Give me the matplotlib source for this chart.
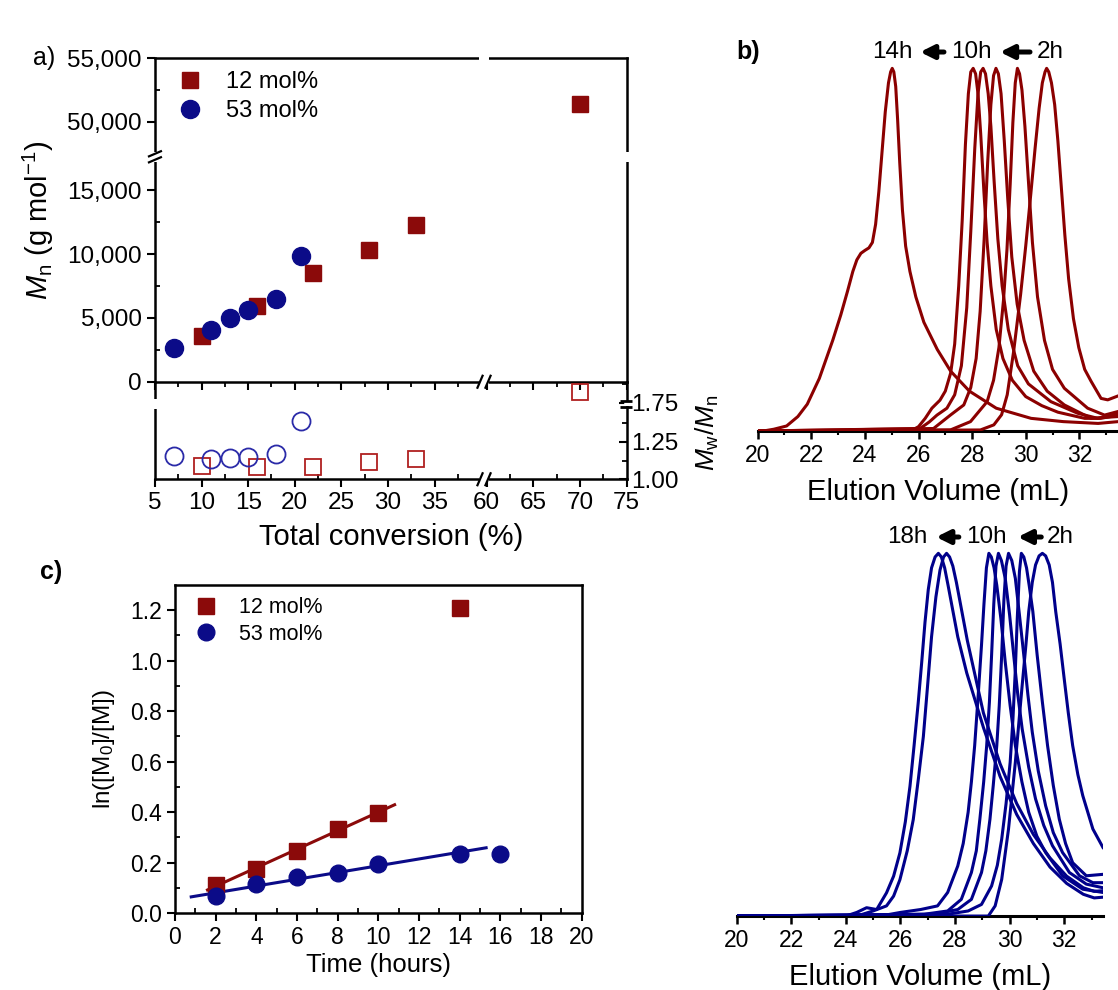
import numpy as np
import matplotlib
matplotlib.use("Agg")
import matplotlib.pyplot as plt
from matplotlib.lines import Line2D
from matplotlib.ticker import FixedLocator, FuncFormatter

plt.rcParams["font.family"] = ["Liberation Sans", "DejaVu Sans"]
plt.rcParams["mathtext.fontset"] = "custom"
plt.rcParams["mathtext.rm"] = "Liberation Sans"
plt.rcParams["mathtext.it"] = "Liberation Sans:italic"

RED = "#8b0a0a"
BLUE = "#0b0b88"

# ---- panel a: Mn and dispersity vs total conversion
conv_12 = [10, 16, 22, 28, 33, 70]
mn_12 = [3570, 5950, 8520, 10370, 12280, 51430]
pdi_12 = [1.088, 1.081, 1.081, 1.116, 1.133, 1.82]
conv_53 = [7, 11, 13, 15, 18, 20.7]
mn_53 = [2650, 4020, 5030, 5610, 6480, 9870]
pdi_53 = [1.156, 1.133, 1.143, 1.149, 1.172, 1.387]

# ---- panel c: first order kinetics
time_12 = [2, 4, 6, 8, 10, 14]
ln_12 = [0.11, 0.176, 0.246, 0.334, 0.398, 1.207]
time_53 = [2, 4, 6, 8, 10, 14, 16]
ln_53 = [0.066, 0.114, 0.143, 0.16, 0.193, 0.233, 0.233]
fit_12_range = [1.6, 10.8]
fit_53_range = [0.8, 15.3]

# ---- panel b: SEC traces, 12 mol% (red)
red_traces = [
    ([20.0, 20.2, 20.6, 21.08, 21.5, 21.85, 22.3, 22.8, 23.1, 23.35, 23.55, 23.7, 23.85,
      24.0, 24.15, 24.28, 24.4, 24.52, 24.64, 24.76, 24.88, 24.96, 25.02, 25.08, 25.15,
      25.22, 25.3, 25.4, 25.52, 25.68, 25.9, 26.2, 26.7, 27.2, 27.9, 28.9, 30.2, 31.4,
      32.7, 33.45],
     [0.0, 0.0, 0.005, 0.014, 0.04, 0.074, 0.145, 0.25, 0.32, 0.385, 0.44, 0.472, 0.49,
      0.498, 0.505, 0.52, 0.57, 0.66, 0.77, 0.88, 0.96, 0.99, 1.0, 0.99, 0.95,
      0.86, 0.74, 0.61, 0.51, 0.44, 0.37, 0.3, 0.225, 0.165, 0.11, 0.063, 0.035, 0.026,
      0.021, 0.026]),
    ([20.0, 25.7, 26.0, 26.25, 26.5, 26.8, 27.0, 27.2, 27.35, 27.5, 27.63, 27.75, 27.86,
      27.95, 28.04, 28.13, 28.22, 28.32, 28.44, 28.56, 28.7, 28.9, 29.15, 29.5, 30.0,
      30.6, 31.2, 32.2, 32.8, 33.45],
     [0.0, 0.0, 0.012, 0.035, 0.063, 0.085, 0.11, 0.16, 0.24, 0.4, 0.58, 0.79, 0.93,
      0.99, 1.0, 0.985, 0.93, 0.82, 0.66, 0.52, 0.4, 0.28, 0.2, 0.14, 0.095,
      0.07, 0.052, 0.035, 0.035, 0.044]),
    ([20.0, 26.06, 26.4, 26.69, 27.06, 27.35, 27.6, 27.8, 27.95, 28.1, 28.22, 28.32, 28.41,
      28.5, 28.6, 28.7, 28.82, 28.96, 29.12, 29.35, 29.7, 30.1, 30.94, 31.94, 32.69, 33.45],
     [0.0, 0.007, 0.025, 0.044, 0.063, 0.1, 0.18, 0.34, 0.55, 0.78, 0.93, 0.99, 1.0,
      0.985, 0.93, 0.84, 0.69, 0.53, 0.4, 0.28, 0.18, 0.13, 0.081, 0.049, 0.035, 0.049]),
    ([20.0, 26.56, 27.19, 27.69, 27.95, 28.15, 28.3, 28.45, 28.58, 28.7, 28.8, 28.89,
      28.98, 29.08, 29.2, 29.33, 29.48, 29.68, 29.94, 30.3, 30.8, 31.44, 32.44, 33.45],
     [0.0, 0.007, 0.044, 0.072, 0.12, 0.2, 0.33, 0.53, 0.74, 0.9, 0.98, 1.0,
      0.985, 0.93, 0.8, 0.64, 0.48, 0.35, 0.25, 0.165, 0.11, 0.072, 0.035, 0.04]),
    ([20.0, 27.19, 27.94, 28.56, 28.8, 29.0, 29.17, 29.3, 29.42, 29.52, 29.61, 29.69,
      29.77, 29.86, 29.97, 30.1, 30.25, 30.44, 30.7, 31.0, 31.44, 32.31, 32.94, 33.45],
     [0.0, 0.003, 0.026, 0.081, 0.14, 0.23, 0.36, 0.5, 0.68, 0.85, 0.96, 1.0,
      0.985, 0.94, 0.84, 0.69, 0.52, 0.37, 0.25, 0.17, 0.118, 0.063, 0.044, 0.054]),
    ([20.0, 28.31, 28.81, 29.1, 29.31, 29.55, 29.81, 30.0, 30.19, 30.35, 30.5, 30.62,
      30.72, 30.78, 30.86, 30.96, 31.08, 31.2, 31.33, 31.46, 31.6, 31.78, 31.98, 32.2,
      32.44, 32.81, 33.06, 33.45],
     [0.0, 0.003, 0.017, 0.045, 0.1, 0.22, 0.377, 0.51, 0.654, 0.78, 0.89, 0.96,
      0.99, 1.0, 0.99, 0.96, 0.9, 0.8, 0.67, 0.54, 0.42, 0.31, 0.23, 0.17,
      0.137, 0.09, 0.086, 0.097]),
]

# ---- panel b: SEC traces, 53 mol% (blue)
blue_traces = [
    ([20.0, 24.0, 24.4, 24.76, 25.13, 25.49, 25.75, 25.98, 26.18, 26.35, 26.5, 26.65,
      26.78, 26.9, 27.02, 27.14, 27.27, 27.39, 27.5, 27.62, 27.75, 27.9, 28.1, 28.43,
      29.04, 29.65, 30.26, 30.87, 31.48, 32.09, 32.7, 33.1, 33.42],
     [0.0, 0.0, 0.01, 0.023, 0.018, 0.064, 0.11, 0.174, 0.26, 0.358, 0.47, 0.587,
      0.7, 0.81, 0.9, 0.96, 0.99, 1.0, 0.99, 0.96, 0.91, 0.85, 0.77, 0.67,
      0.52, 0.385, 0.28, 0.2, 0.135, 0.09, 0.06, 0.05, 0.052]),
    ([20.0, 24.4, 25.0, 25.49, 25.75, 25.98, 26.25, 26.47, 26.66, 26.84, 27.0, 27.14,
      27.3, 27.45, 27.58, 27.69, 27.8, 27.92, 28.05, 28.2, 28.45, 29.04, 29.65, 30.26,
      30.87, 31.48, 32.09, 32.7, 33.1, 33.42],
     [0.0, 0.0, 0.014, 0.028, 0.055, 0.1, 0.18, 0.266, 0.38, 0.495, 0.64, 0.77,
      0.88, 0.954, 0.99, 1.0, 0.99, 0.965, 0.92, 0.86, 0.76, 0.56, 0.42, 0.31,
      0.225, 0.16, 0.11, 0.078, 0.068, 0.07]),
    ([20.0, 25.26, 26.0, 26.74, 27.36, 27.73, 28.1, 28.3, 28.48, 28.6, 28.72, 28.85,
      28.97, 29.06, 29.15, 29.24, 29.33, 29.43, 29.53, 29.68, 29.84, 30.02, 30.21,
      30.45, 30.7, 31.0, 31.32, 31.94, 32.68, 33.42],
     [0.0, 0.0, 0.01, 0.018, 0.028, 0.065, 0.138, 0.2, 0.286, 0.37, 0.47, 0.61,
      0.747, 0.86, 0.96, 1.0, 0.99, 0.96, 0.912, 0.82, 0.7, 0.58, 0.47,
      0.37, 0.286, 0.22, 0.175, 0.111, 0.074, 0.065]),
    ([20.0, 26.87, 27.73, 28.23, 28.6, 28.78, 28.91, 29.05, 29.16, 29.26, 29.34, 29.42,
      29.5, 29.59, 29.7, 29.84, 30.0, 30.15, 30.3, 30.46, 30.7, 30.95, 31.25, 31.57,
      32.19, 32.81, 33.42],
     [0.0, 0.005, 0.014, 0.046, 0.12, 0.18, 0.267, 0.37, 0.47, 0.59, 0.72, 0.86,
      0.965, 1.0, 0.98, 0.931, 0.83, 0.719, 0.61, 0.516, 0.41, 0.323, 0.25, 0.194,
      0.12, 0.088, 0.078]),
    ([20.0, 27.24, 28.1, 28.6, 28.97, 29.13, 29.28, 29.4, 29.53, 29.62, 29.71, 29.79,
      29.87, 29.96, 30.08, 30.21, 30.36, 30.52, 30.67, 30.83, 31.05, 31.32, 31.6,
      31.94, 32.56, 33.05, 33.42],
     [0.0, 0.005, 0.018, 0.046, 0.12, 0.18, 0.267, 0.36, 0.47, 0.58, 0.72, 0.87,
      0.965, 1.0, 0.98, 0.931, 0.83, 0.719, 0.61, 0.507, 0.4, 0.304, 0.23,
      0.175, 0.111, 0.092, 0.092]),
    ([20.0, 27.73, 28.48, 28.97, 29.34, 29.55, 29.71, 29.87, 30.02, 30.12, 30.21, 30.28,
      30.36, 30.43, 30.52, 30.62, 30.72, 30.85, 31.01, 31.2, 31.39, 31.6, 31.82, 32.05,
      32.31, 32.81, 33.42],
     [0.0, 0.005, 0.014, 0.032, 0.083, 0.14, 0.212, 0.31, 0.424, 0.54, 0.68, 0.82,
      0.95, 1.0, 0.99, 0.96, 0.91, 0.84, 0.719, 0.59, 0.47, 0.36, 0.267, 0.2,
      0.147, 0.111, 0.115]),
    ([20.0, 29.22, 29.47, 29.71, 29.96, 30.21, 30.46, 30.6, 30.7, 30.83, 30.95, 31.08,
      31.2, 31.32, 31.45, 31.57, 31.69, 31.85, 32.0, 32.15, 32.31, 32.5, 32.68, 33.05,
      33.42],
     [0.0, 0.0, 0.028, 0.101, 0.24, 0.424, 0.636, 0.75, 0.839, 0.92, 0.968, 0.993,
      1.0, 0.993, 0.968, 0.92, 0.839, 0.75, 0.654, 0.56, 0.47, 0.39, 0.332, 0.24,
      0.189]),
]

red_marks = [("14h", 25.02), ("10h", 27.98), ("2h", 30.93)]
red_arrows = [(26.95, 26.06), (30.16, 29.04)]
blue_marks = [("18h", 26.25), ("10h", 29.16), ("2h", 31.86)]
blue_arrows = [(28.14, 27.31), (31.16, 30.3)]


# broken axis scales
def fx(x):
    x = np.asarray(x, float)
    return np.where(x <= 40, x, np.where(x >= 60, x - 19.4, 40 + (x - 40) * 0.03))


def fx_inv(u):
    u = np.asarray(u, float)
    return np.where(u <= 40, u, np.where(u >= 40.6, u + 19.4, 40 + (u - 40) / 0.03))


def fmn(y):
    y = np.asarray(y, float)
    return np.where(y <= 17600, y, np.where(y >= 47300, y - 29609,
                                            17600 + (y - 17600) * (91.0 / 29700)))


def fmn_inv(u):
    u = np.asarray(u, float)
    return np.where(u <= 17600, u, np.where(u >= 17691, u + 29609,
                                            17600 + (u - 17600) / (91.0 / 29700)))


def fpdi(y):
    y = np.asarray(y, float)
    return np.where(y <= 1.5, y, np.where(y >= 1.745, y - 0.2365,
                                          1.5 + (y - 1.5) * (0.0085 / 0.245)))


def fpdi_inv(u):
    u = np.asarray(u, float)
    return np.where(u <= 1.5, u, np.where(u >= 1.5085, u + 0.2365,
                                          1.5 + (u - 1.5) / (0.0085 / 0.245)))


fig = plt.figure(figsize=(11.18, 9.9), dpi=100)
inv = fig.transFigure.inverted()


def seg(cx, cy, x0, y0, x1, y1, **kw):
    p = inv.transform([(cx + x0, cy + y0), (cx + x1, cy + y1)])
    fig.add_artist(Line2D(p[:, 0], p[:, 1], transform=fig.transFigure,
                          solid_capstyle="butt", **kw))


def spine_mark(ax, xd, yd, kind, xaxes=None, yaxes=None):
    cx, cy = ax.transData.transform((xd, yd))
    if xaxes is not None:
        cx = ax.transAxes.transform((xaxes, 0))[0]
    if yaxes is not None:
        cy = ax.transAxes.transform((0, yaxes))[1]
    if kind in ("xgap", "xslash"):
        seg(cx, cy, -5, 0, 5, 0, color="white", lw=4, zorder=10)
    if kind in ("ygap", "yslash"):
        seg(cx, cy, 0, -5, 0, 5, color="white", lw=4, zorder=10)
    if kind == "xslash":
        for s in (-4, 4):
            seg(cx, cy, s - 3, -7, s + 3, 7, color="k", lw=1.6, zorder=11)
    if kind == "yslash":
        for s in (-3, 3):
            seg(cx, cy, -7, s - 3, 7, s + 3, color="k", lw=1.6, zorder=11)
    if kind == "yeq":
        seg(cx, cy, 0, -2.5, 0, 2.5, color="white", lw=4, zorder=10)
        for s in (-3, 3):
            seg(cx, cy, -7, s, 5, s, color="k", lw=2, zorder=11)


def style_ticks(ax, size):
    ax.tick_params(which="major", direction="out", length=6, width=1.5, labelsize=size)
    ax.tick_params(which="minor", direction="in", length=3.5, width=1.3)
    for sp in ax.spines.values():
        sp.set_linewidth(1.8)


# ---------------- panel a (top: Mn)
ax_a = fig.add_axes([0.1386, 0.6144, 0.4219, 0.3270])
ax_a.set_xscale("function", functions=(fx, fx_inv))
ax_a.set_yscale("function", functions=(fmn, fmn_inv))
ax_a.plot(conv_12, mn_12, "s", color=RED, ms=12, ls="none", label="12 mol%")
ax_a.plot(conv_53, mn_53, "o", color=BLUE, ms=13, ls="none", label="53 mol%")
ax_a.set_xlim(5, 75)
ax_a.set_ylim(0, 55000)
xt_major = [5, 10, 15, 20, 25, 30, 35, 60, 65, 70, 75]
xt_minor = [7.5, 12.5, 17.5, 22.5, 27.5, 32.5, 37.5, 62.5, 67.5, 72.5]
ax_a.xaxis.set_major_locator(FixedLocator(xt_major))
ax_a.xaxis.set_minor_locator(FixedLocator(xt_minor))
ax_a.yaxis.set_major_locator(FixedLocator([0, 5000, 10000, 15000, 50000, 55000]))
ax_a.yaxis.set_minor_locator(FixedLocator([2500, 7500, 12500, 52500]))
ax_a.yaxis.set_major_formatter(FuncFormatter(lambda v, p: f"{int(round(v)):,}"))
style_ticks(ax_a, 17.5)
ax_a.tick_params(axis="x", which="both", direction="out", labelbottom=False)
ax_a.legend(loc="upper left", bbox_to_anchor=(0.04, 0.975), frameon=False, fontsize=17,
            handlelength=1.0, handletextpad=1.0, labelspacing=0.3, borderaxespad=0,
            borderpad=0.2)

# ---------------- panel a (bottom: dispersity)
ax_p = fig.add_axes([0.1386, 0.5159, 0.4219, 0.0986])
ax_p.patch.set_visible(False)
ax_p.set_xscale("function", functions=(fx, fx_inv))
ax_p.set_yscale("function", functions=(fpdi, fpdi_inv))
ax_p.plot(conv_12, pdi_12, "s", mfc="none", mec="#b02020", mew=1.3, ms=12, ls="none")
ax_p.plot(conv_53, pdi_53, "o", mfc="none", mec="#2a2aa8", mew=1.3, ms=13, ls="none")
ax_p.set_xlim(5, 75)
ax_p.set_ylim(1.0, 1.89)
ax_p.xaxis.set_major_locator(FixedLocator(xt_major))
ax_p.xaxis.set_minor_locator(FixedLocator(xt_minor))
ax_p.yaxis.set_major_locator(FixedLocator([1.0, 1.25, 1.75]))
ax_p.yaxis.set_minor_locator(FixedLocator([1.125, 1.375, 1.875]))
ax_p.yaxis.set_major_formatter(FuncFormatter(lambda v, p: f"{v:.2f}"))
ax_p.yaxis.tick_right()
style_ticks(ax_p, 17.5)
ax_p.tick_params(axis="y", which="both", direction="in")
ax_p.spines["top"].set_visible(False)

# break marks
spine_mark(ax_a, 50, 0, "xslash", yaxes=0)
spine_mark(ax_p, 50, 1.0, "xslash", yaxes=0)
spine_mark(ax_a, 50, 0, "xgap", yaxes=1)
spine_mark(ax_a, 5, 32000, "yslash", xaxes=0)
spine_mark(ax_a, 5, 32000, "ygap", xaxes=1)
spine_mark(ax_p, 5, 1.62, "ygap", xaxes=0)
spine_mark(ax_p, 5, 1.62, "yeq", xaxes=1)

fig.text(0.0394, 0.9414, "a)", fontsize=18, ha="center", va="center")
fig.text(0.034, 0.778, r"$M_{\rm n}$ (g mol$^{-1}$)", fontsize=21, rotation=90,
         ha="center", va="center")
fig.text(0.633, 0.563, r"$M_{\rm w}/M_{\rm n}$", fontsize=19, rotation=90,
         ha="center", va="center")
fig.text(0.3496, 0.4575, "Total conversion (%)", fontsize=21, ha="center", va="center")

# ---------------- panel b (SEC traces)
ax_b1 = fig.add_axes([0.6777, 0.5646, 0.3220, 0.3737])
ax_b2 = fig.add_axes([0.6589, 0.0747, 0.3279, 0.3737])
for ax, traces, col, marks, arrows in ((ax_b1, red_traces, "#8b0000", red_marks, red_arrows),
                                       (ax_b2, blue_traces, "#00008b", blue_marks, blue_arrows)):
    for xs, ys in traces:
        ax.plot(xs, ys, color=col, lw=2.2, solid_joinstyle="round")
    ax.set_xlim(20, 33.43)
    ax.set_ylim(0, 1.02)
    for s in ("top", "right", "left"):
        ax.spines[s].set_visible(False)
    ax.spines["bottom"].set_linewidth(2.2)
    ax.spines["bottom"].set_zorder(0.5)
    ax.set_yticks([])
    ax.xaxis.set_major_locator(FixedLocator([20, 22, 24, 26, 28, 30, 32]))
    ax.xaxis.set_minor_locator(FixedLocator([21, 23, 25, 27, 29, 31, 33]))
    ax.tick_params(which="major", direction="out", length=6, width=1.8, labelsize=16.5)
    ax.tick_params(which="minor", direction="out", length=3, width=1.5)
    ax.set_xlabel("Elution Volume (mL)", fontsize=21, labelpad=8)
    for txt, xm in marks:
        ax.text(xm, 1.045, txt, fontsize=17.5, ha="center", va="center", clip_on=False)
    for xa, xb in arrows:
        ax.annotate("", xy=(xb, 1.045), xytext=(xa, 1.045), annotation_clip=False,
                    arrowprops=dict(arrowstyle="-|>", lw=3.6, color="k",
                                    mutation_scale=20, shrinkA=0, shrinkB=0))

fig.text(0.669, 0.9475, "b)", fontsize=18, fontweight="bold", ha="center", va="center")

# ---------------- panel c (kinetics)
ax_c = fig.add_axes([0.1565, 0.0778, 0.3638, 0.3313])
k12 = np.polyfit(time_12[:5], ln_12[:5], 1)
k53 = np.polyfit(time_53[:6], ln_53[:6], 1)
ax_c.plot(fit_12_range, np.polyval(k12, fit_12_range), color=RED, lw=2.2)
ax_c.plot(fit_53_range, np.polyval(k53, fit_53_range), color=BLUE, lw=2.2)
ax_c.plot(time_12, ln_12, "s", color=RED, ms=11, ls="none", label="12 mol%")
ax_c.plot(time_53, ln_53, "o", color=BLUE, ms=12, ls="none", label="53 mol%")
ax_c.set_xlim(0, 20)
ax_c.set_ylim(0, 1.3)
ax_c.xaxis.set_major_locator(FixedLocator(np.arange(0, 21, 2)))
ax_c.xaxis.set_minor_locator(FixedLocator(np.arange(1, 20, 2)))
ax_c.yaxis.set_major_locator(FixedLocator([0.0, 0.2, 0.4, 0.6, 0.8, 1.0, 1.2]))
ax_c.yaxis.set_minor_locator(FixedLocator([0.1, 0.3, 0.5, 0.7, 0.9, 1.1]))
ax_c.yaxis.set_major_formatter(FuncFormatter(lambda v, p: f"{v:.1f}"))
style_ticks(ax_c, 16.5)
ax_c.set_xlabel("Time (hours)", fontsize=18.5, labelpad=3)
ax_c.set_ylabel(r"ln([M$_0$]/[M])", fontsize=17.5, labelpad=9)
ax_c.legend(loc="upper left", bbox_to_anchor=(0.04, 0.975), frameon=False, fontsize=15.5,
            handlelength=1.0, handletextpad=1.0, labelspacing=0.25, borderaxespad=0,
            borderpad=0.2)
fig.text(0.0456, 0.422, "c)", fontsize=18, fontweight="bold", ha="center", va="center")

fig.savefig("out.png", dpi=100)
